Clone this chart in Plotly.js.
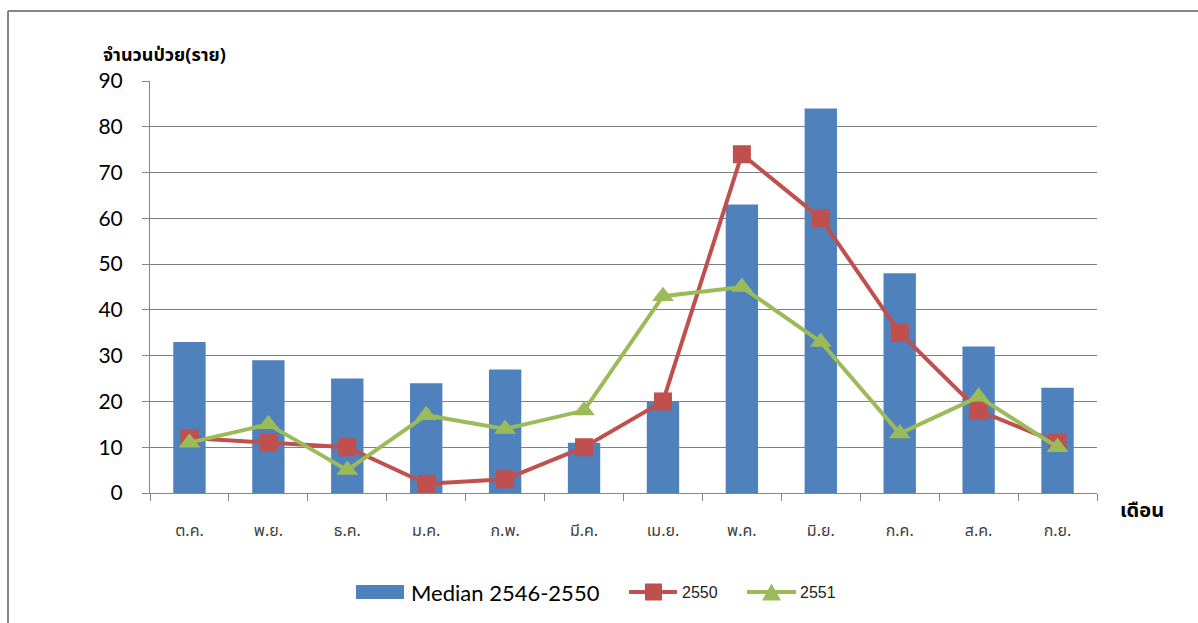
<!DOCTYPE html>
<html>
<head>
<meta charset="utf-8">
<script src="https://cdn.plot.ly/plotly-3.0.1.min.js"></script>
<style>
html,body{margin:0;padding:0;background:#fff;}
#chart{width:1198px;height:623px;}
</style>
</head>
<body>
<div id="chart"></div>
<script>
const months = ["ต.ค.","พ.ย.","ธ.ค.","ม.ค.","ก.พ.","มี.ค.","เม.ย.","พ.ค.","มิ.ย.","ก.ค.","ส.ค.","ก.ย."];
const median = [33,29,25,24,27,11,20,63,84,48,32,23];
const y2550 = [12,11,10,2,3,10,20,74,60,35,18,11];
const y2551 = [11,15,5,17,14,18,43,45,33,13,21,10];
const yTicks = [0,10,20,30,40,50,60,70,80,90];
const seriesNames = ["Median 2546-2550","2550","2551"];
const colors = ['#4F81BD','#C0504D','#9BBB59'];

const W = 1198, H = 623;
const m = {l:150, r:101, t:81, b:130};
const pw = W - m.l - m.r, ph = H - m.t - m.b;
const px = x => (x - m.l) / pw;
const py = y => (H - m.b - y) / ph;

const thaiFont = "Noto Sans Thai, Noto Sans, DejaVu Sans, sans-serif";

const traces = [
  {type:'bar', x:months, y:median, name:seriesNames[0], marker:{color:colors[0]}},
  {type:'scatter', mode:'lines+markers', x:months, y:y2550, name:seriesNames[1],
   line:{color:colors[1], width:4}, marker:{symbol:'square', size:18, color:colors[1]}},
  {type:'scatter', mode:'lines+markers', x:months, y:y2551, name:seriesNames[2],
   line:{color:colors[2], width:4}, marker:{symbol:'triangle-up', size:19, color:colors[2]}}
];

// custom legend (decoration)
const LY = 592;
const shapes = [
  {type:'line', xref:'paper', yref:'paper', x0:px(8), x1:px(1210), y0:py(11), y1:py(11), line:{color:'#868686', width:2}},
  {type:'line', xref:'paper', yref:'paper', x0:px(8), x1:px(8), y0:py(11), y1:py(640), line:{color:'#868686', width:2}},
  {type:'rect', xref:'paper', yref:'paper', x0:px(356), x1:px(404), y0:py(585), y1:py(599), fillcolor:colors[0], line:{width:0}},
  {type:'line', xref:'paper', yref:'paper', x0:px(629), x1:px(677), y0:py(LY), y1:py(LY), line:{color:colors[1], width:4}},
  {type:'rect', xref:'paper', yref:'paper', x0:px(645), x1:px(662), y0:py(583.5), y1:py(600.5), fillcolor:colors[1], line:{width:0}},
  {type:'line', xref:'paper', yref:'paper', x0:px(747), x1:px(796), y0:py(LY), y1:py(LY), line:{color:colors[2], width:4}},
  {type:'path', xref:'paper', yref:'paper',
   path:`M ${px(762)} ${py(600.5)} L ${px(781)} ${py(600.5)} L ${px(771.5)} ${py(583.5)} Z`,
   fillcolor:colors[2], line:{width:0}}
];

const annotations = [
  {text:'<b>จำนวนป่วย(ราย)</b>', xref:'paper', yref:'paper', x:px(102), y:py(55), xanchor:'left', yanchor:'middle',
   showarrow:false, font:{family:thaiFont, size:18, color:'#000'}, borderpad:0},
  {text:'<b>เดือน</b>', xref:'paper', yref:'paper', x:px(1118), y:py(511), xanchor:'left', yanchor:'middle',
   showarrow:false, font:{family:thaiFont, size:20, color:'#000'}},
  {text:seriesNames[0], xref:'paper', yref:'paper', x:px(409), y:py(LY), xanchor:'left', yanchor:'middle',
   showarrow:false, font:{family:'Lato, sans-serif', size:22, color:'#000'}},
  {text:seriesNames[1], xref:'paper', yref:'paper', x:px(680), y:py(LY), xanchor:'left', yanchor:'middle',
   showarrow:false, font:{family:'Liberation Sans, Arial, sans-serif', size:16, color:'#222'}},
  {text:seriesNames[2], xref:'paper', yref:'paper', x:px(798), y:py(LY), xanchor:'left', yanchor:'middle',
   showarrow:false, font:{family:'Liberation Sans, Arial, sans-serif', size:16, color:'#222'}}
];

const layout = {
  width:W, height:H,
  margin:m,
  paper_bgcolor:'#fff', plot_bgcolor:'#fff',
  bargap:0.59,
  showlegend:false,
  xaxis:{type:'category', range:[-0.5, 11.5], tickson:'boundaries', ticks:'outside', ticklen:7, tickcolor:'#868686',
    showline:true, linecolor:'#868686', linewidth:1, showgrid:false, ticklabelstandoff:23,
    tickfont:{family:thaiFont, size:16, color:'#404040'}, fixedrange:true},
  yaxis:{range:[0,90], tickvals:yTicks, ticks:'outside', ticklen:7, tickcolor:'#868686',
    showline:true, linecolor:'#868686', linewidth:1, showgrid:true, gridcolor:'#7f7f7f', gridwidth:1,
    zeroline:false, ticklabelstandoff:15,
    tickfont:{family:'Lato, sans-serif', size:21, color:'#000'}, fixedrange:true},
  annotations:annotations,
  shapes:shapes
};

Plotly.newPlot('chart', traces, layout, {displayModeBar:false, staticPlot:true});
</script>
</body>
</html>
